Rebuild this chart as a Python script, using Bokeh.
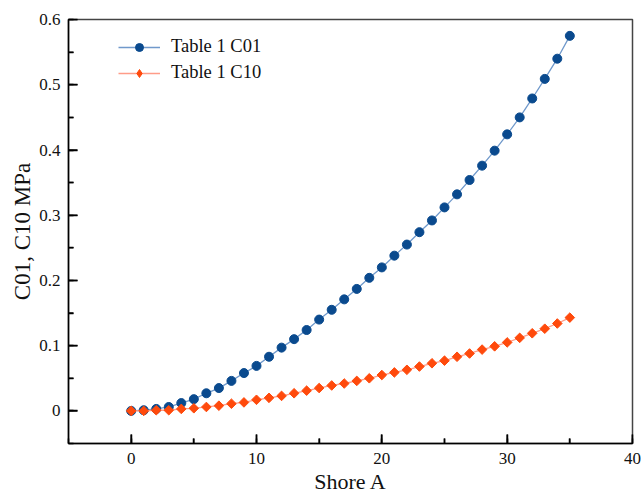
from bokeh.plotting import figure
from bokeh.embed import file_html
from bokeh.resources import INLINE
from bokeh.models import Range1d, SingleIntervalTicker, NumeralTickFormatter, Legend
import math

shore_a = list(range(0, 36))
c01 = [0.000, 0.001, 0.003, 0.006, 0.012, 0.018, 0.027, 0.035, 0.046, 0.058,
       0.069, 0.083, 0.097, 0.110, 0.124, 0.140, 0.155, 0.171, 0.187, 0.204,
       0.220, 0.238, 0.255, 0.274, 0.292, 0.312, 0.332, 0.354, 0.376, 0.399,
       0.424, 0.450, 0.479, 0.509, 0.540, 0.575]
c10 = [0.000, 0.000, 0.001, 0.001, 0.003, 0.004, 0.006, 0.008, 0.011, 0.013,
       0.017, 0.020, 0.023, 0.027, 0.031, 0.035, 0.039, 0.042, 0.046, 0.050,
       0.055, 0.059, 0.063, 0.068, 0.073, 0.077, 0.083, 0.088, 0.094, 0.099,
       0.105, 0.112, 0.119, 0.126, 0.134, 0.143]
series_names = ["Table 1 C01", "Table 1 C10"]
x_label = "Shore A"
y_label = "C01, C10 MPa"

x_start, x_end = -5, 40
y_start, y_end = -0.05, 0.6
x_major_ticks = [0, 10, 20, 30, 40]
x_minor_ticks = [5, 15, 25, 35]
y_major_ticks = [0, 0.1, 0.2, 0.3, 0.4, 0.5, 0.6]
y_minor_ticks = [0.05, 0.15, 0.25, 0.35, 0.45, 0.55]

FONT = "Liberation Serif"
W, H = 644, 497
BL, BR, BT, BB = 68, 12, 19, 54

p = figure(width=W, height=H, output_backend="svg", toolbar_location=None,
           x_range=Range1d(x_start, x_end + 1e-4), y_range=Range1d(y_start, y_end + 1e-4),
           min_border_left=BL, min_border_right=BR, min_border_top=BT, min_border_bottom=BB)

p.xgrid.visible = False
p.ygrid.visible = False
p.outline_line_color = "#444444"
p.outline_line_width = 1.5

p.xaxis.ticker = SingleIntervalTicker(interval=10, num_minor_ticks=2)
p.yaxis.ticker = SingleIntervalTicker(interval=0.1, num_minor_ticks=2)
p.yaxis.formatter = NumeralTickFormatter(format="0.[0]")

for ax in (p.xaxis[0], p.yaxis[0]):
    ax.major_tick_in = 9
    ax.major_tick_out = 0
    ax.minor_tick_in = 5
    ax.minor_tick_out = 0
    ax.major_tick_line_color = "black"
    ax.major_tick_line_width = 1.5
    ax.minor_tick_line_color = "black"
    ax.minor_tick_line_width = 1.5
    ax.axis_line_color = "black"
    ax.axis_line_width = 1.5
    ax.major_label_text_font = FONT
    ax.major_label_text_font_size = "17px"
    ax.major_label_text_color = "#111111"
    ax.axis_label_text_font = FONT
    ax.axis_label_text_font_style = "normal"
    ax.axis_label_text_color = "#111111"

p.xaxis.axis_label = x_label
p.yaxis.axis_label = y_label
p.xaxis.axis_label_text_font_size = "22px"
p.yaxis.axis_label_text_font_size = "23px"
p.xaxis.major_label_standoff = 9
p.xaxis.axis_label_standoff = 2
p.yaxis.major_label_standoff = 8
p.yaxis.axis_label_standoff = 1

# inward tick marks drawn inside the frame (pixel lengths converted to data units)
px_x = (W - BL - BR) / (x_end - x_start)
px_y = (H - BT - BB) / (y_end - y_start)
for ticks, ln in ((x_major_ticks, 9), (x_minor_ticks, 5)):
    p.segment(x0=ticks, y0=[y_start] * len(ticks), x1=ticks,
              y1=[y_start + ln / px_y] * len(ticks), line_color="black", line_width=1.5)
for ticks, ln in ((y_major_ticks, 9), (y_minor_ticks, 5)):
    p.segment(x0=[x_start] * len(ticks), y0=ticks, x1=[x_start + ln / px_x] * len(ticks),
              y1=ticks, line_color="black", line_width=1.5)

blue_m, blue_l = "#0a4a8e", "#7099cb"
org_m, org_l = "#ff4a0c", "#ff9c88"

# legend-only markers, hidden beneath the first real markers
s1_leg = p.scatter(shore_a[:1], c01[:1], marker="circle", size=7, fill_color=blue_m, line_color=blue_m)
s2_leg = p.scatter(shore_a[:1], c10[:1], marker="diamond", size=9, fill_color=org_m, line_color=org_m)

l1 = p.line(shore_a, c01, line_color=blue_l, line_width=1.3)
s1 = p.scatter(shore_a, c01, marker="circle", size=9, fill_color=blue_m, line_color=blue_m)
l2 = p.line(shore_a, c10, line_color=org_l, line_width=1.3)
s2 = p.scatter(shore_a, c10, marker="square", angle=math.pi / 4, size=6.8,
               fill_color=org_m, line_color=org_m)

legend = Legend(items=[(series_names[0], [l1, s1_leg]), (series_names[1], [l2, s2_leg])],
                location=(50, 360))
legend.background_fill_alpha = 0
legend.border_line_color = None
legend.padding = 0
legend.margin = 0
legend.glyph_width = 42
legend.glyph_height = 20
legend.label_height = 20
legend.spacing = 5
legend.label_standoff = 11
legend.label_text_font = FONT
legend.label_text_font_size = "18.5px"
legend.label_text_color = "#111111"
p.add_layout(legend)

open("out.html", "w").write(file_html(p, INLINE))
